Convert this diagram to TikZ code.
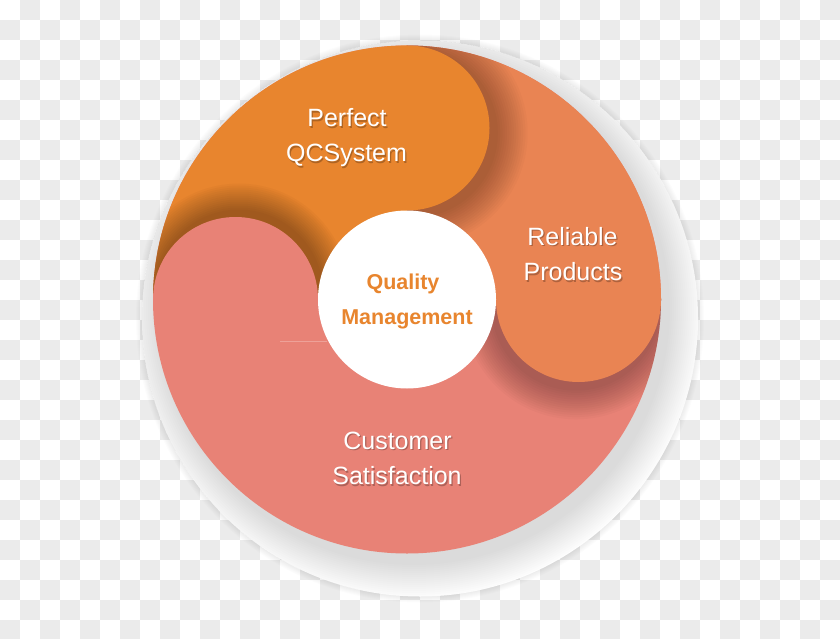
\documentclass[tikz,border=0pt]{standalone}
\usepackage{fontspec}
\setmainfont{Liberation Sans}
\definecolor{checkgray}{HTML}{EBEBEB}
\definecolor{qcorange}{HTML}{E8852E}
\definecolor{relorange}{HTML}{E98453}
\definecolor{custpink}{HTML}{E88276}
\tikzset{
  lbl/.style={text=white, font=\fontsize{25}{30}\selectfont, anchor=base, inner sep=0pt},
  lblsh/.style={text=black, text opacity=0.25, font=\fontsize{25}{30}\selectfont, anchor=base, inner sep=0pt},
  ttl/.style={text=qcorange, font=\bfseries\fontsize{21.5}{26}\selectfont, anchor=base, inner sep=0pt},
  softsh/.style={fill=black, opacity=#1},
}
\newcommand\lbltext[4]{%
  \node[lblsh] (#1s) at (#2+1.2,#3+1.6) {#4};
  \node[lbl] (#1) at (#2,#3) {#4};}
\begin{document}
\begin{tikzpicture}[x=1pt,y=-1pt]
\useasboundingbox (0,0) rectangle (840,639);
% checkerboard background
\fill[white] (0,0) rectangle (840,639);
\foreach \j in {0,...,31}{
  \foreach \i in {0,2,...,40}{
    \pgfmathtruncatemacro\xx{20*(\i+1-mod(\j,2))}
    \fill[checkgray] (\xx,20*\j) rectangle ++(20,20);
  }
}
% soft edge of white plate
\foreach \k in {1,...,6}
  \fill[softsh=0.012] (420,318.5) circle[radius=278+\k];
\fill[white] (420,318.5) circle[radius=278];
% shadow of coloured disk on plate
\begin{scope}
  \clip (420,318.5) circle[radius=278];
  \foreach \k in {1,...,18}
    \fill[softsh=0.009] (414,309) circle[radius=254+2*\k];
\end{scope}
% base disk (customer satisfaction)
\fill[custpink] (407,299.5) circle[radius=254];
\begin{scope}
  \clip (407,299.5) circle[radius=254];
  % reliable quadrant
  \fill[relorange] (407,0) rectangle (700,299.5);
  % shadow of orange cap onto reliable
  \begin{scope}
    \clip (407,0) rectangle (700,299.5);
    \foreach \k in {1,...,14}
      \fill[softsh=0.018] (413,133) circle[radius=82.5+2.3*\k];
  \end{scope}
  % orange quadrant and cap
  \fill[qcorange] (100,0) rectangle (407,299.5);
  \fill[qcorange] (407,128) circle[radius=82.5];
  % shadow of pink cap onto orange
  \begin{scope}
    \clip (100,0) rectangle (407,299.5);
    \foreach \k in {1,...,14}
      \fill[softsh=0.024] (239,294) circle[radius=82.5+2*\k];
  \end{scope}
  \fill[custpink] (235.5,299.5) circle[radius=82.5];
  % shadow of reliable cap onto pink
  \begin{scope}
    \clip (407,299.5) rectangle (700,600);
    \foreach \k in {1,...,14}
      \fill[softsh=0.018] (576,306) circle[radius=82.5+2.2*\k];
  \end{scope}
  \fill[relorange] (578.5,299.5) circle[radius=82.5];
  % faint seam
  \draw[custpink!75!white, line width=0.6pt] (280,341.5) -- (327,341.5);
\end{scope}
% core
\node[circle, fill=white, minimum size=178pt, inner sep=0pt] (core) at (407,299.5) {};
\node[ttl] (quality) at (403,289) {Quality};
\node[ttl] (mgmt) at (407,324.5) {Management};
% labels
\lbltext{perfect}{347}{126.7}{Perfect}
\lbltext{qcsys}{346.5}{161.7}{QCSystem}
\lbltext{reliable}{572.5}{245}{Reliable}
\lbltext{products}{573}{280.7}{Products}
\lbltext{customer}{397.5}{449}{Customer}
\lbltext{satisf}{397}{484.5}{Satisfaction}
\end{tikzpicture}
\end{document}
